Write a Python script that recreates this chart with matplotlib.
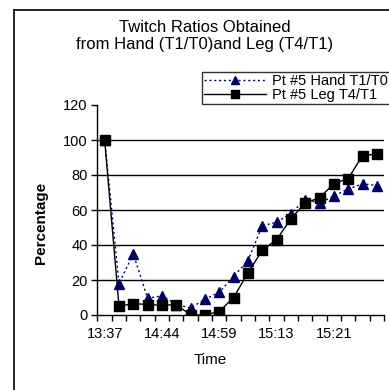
import numpy as np
import matplotlib
matplotlib.use("Agg")
import matplotlib.pyplot as plt
from matplotlib.lines import Line2D

plt.rcParams['font.family'] = ['Liberation Sans', 'DejaVu Sans']

# time labels shown on the axis (every 4th sample)
shown_labels = ['13:37', '14:44', '14:59', '15:13', '15:21']
n_points = 20

hand = [100, 18, 35, 9.5, 11, 6, 4, 9, 13, 22, 31, 51, 53, 58, 66, 64, 68, 72, 75, 74]
leg = [100, 5, 6.5, 6, 5.5, 6, 0, 0, 2, 10, 24, 37, 43, 55, 64, 67, 75, 78, 91, 92]

x = np.arange(n_points)

fig = plt.figure(figsize=(3.89, 3.90), dpi=100)
ax = fig.add_axes([97.5 / 389, 75 / 390, (384 - 97.5) / 389, 210 / 390])

for y in [20, 40, 60, 80, 100]:
    ax.axhline(y, color='black', lw=1, zorder=1)

ax.plot(x, hand, color='#000066', ls=(0, (1.5, 2)), lw=1, marker='^',
        ms=7, mfc='#000066', mec='#000066', label='Pt #5 Hand T1/T0', zorder=3)
ax.plot(x, leg, color='black', ls='-', lw=1, marker='s',
        ms=7, mfc='black', mec='black', label='Pt #5 Leg T4/T1', zorder=4)

ax.set_xlim(-0.5, n_points - 0.5)
ax.set_ylim(0, 120)
ax.set_yticks(range(0, 121, 20))
ax.tick_params(axis='y', direction='out', length=4, width=1, labelsize=10.5, pad=3)

ax.set_xticks(x[::4])
ax.set_xticklabels(shown_labels)
ax.set_xticks(np.arange(-0.5, n_points, 1), minor=True)
ax.tick_params(axis='x', which='major', length=0, labelsize=10.5, pad=9)
ax.tick_params(axis='x', which='minor', direction='out', length=4, width=1)

for s in ['top', 'right']:
    ax.spines[s].set_visible(False)
ax.spines['left'].set_linewidth(1)
ax.spines['bottom'].set_linewidth(1)

ax.set_xlabel('Time', fontsize=11)
ax.xaxis.set_label_coords(0.395, -0.18)
ax.set_ylabel('Percentage', fontsize=11, fontweight='bold')
ax.yaxis.set_label_coords(-0.172, 0.44)

fig.text(205 / 389, 1 - 27 / 390, 'Twitch Ratios Obtained', ha='center', va='center', fontsize=12)
fig.text(205 / 389, 1 - 45 / 390, 'from Hand (T1/T0)and Leg (T4/T1)', ha='center', va='center', fontsize=12)

leg_box = ax.legend(loc='upper left', bbox_to_anchor=(202 / 389, 1 - 72 / 390),
                    bbox_transform=fig.transFigure, fontsize=10.5, frameon=True,
                    fancybox=False, edgecolor='black', borderpad=0.15,
                    handlelength=4.25, handletextpad=0.4, labelspacing=0.0,
                    borderaxespad=0, markerscale=0.9)
leg_box.get_frame().set_linewidth(1)

# chart border
fig.add_artist(Line2D([14 / 389, 14 / 389], [0, 1 - 10 / 390], color='black', lw=1.2,
                      transform=fig.transFigure))
fig.add_artist(Line2D([14 / 389, 1], [1 - 10 / 390, 1 - 10 / 390], color='black', lw=1.2,
                      transform=fig.transFigure))

fig.savefig('out.png', dpi=100)
